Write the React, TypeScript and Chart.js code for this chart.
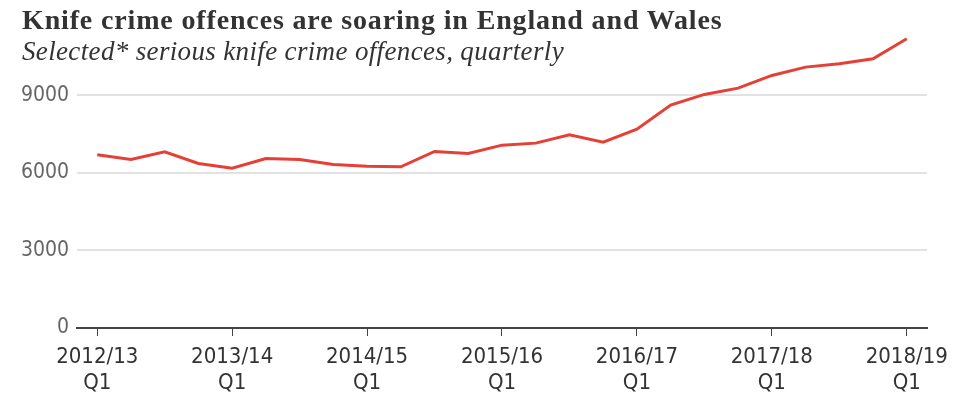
import React, { useEffect, useRef } from "react";
import { Chart, registerables } from "chart.js";

Chart.register(...registerables);

const quarterLabels = [
  "2012/13 Q1", "2012/13 Q2", "2012/13 Q3", "2012/13 Q4",
  "2013/14 Q1", "2013/14 Q2", "2013/14 Q3", "2013/14 Q4",
  "2014/15 Q1", "2014/15 Q2", "2014/15 Q3", "2014/15 Q4",
  "2015/16 Q1", "2015/16 Q2", "2015/16 Q3", "2015/16 Q4",
  "2016/17 Q1", "2016/17 Q2", "2016/17 Q3", "2016/17 Q4",
  "2017/18 Q1", "2017/18 Q2", "2017/18 Q3", "2017/18 Q4",
  "2018/19 Q1",
];

const offences = [
  6705, 6523, 6821, 6368,
  6186, 6561, 6523, 6329,
  6263, 6240, 6832, 6755,
  7076, 7154, 7479, 7192,
  7696, 8625, 9039, 9283,
  9774, 10096, 10227, 10421,
  11195,
];

const yTicks = [0, 3000, 6000, 9000];
const xTickIndices = [0, 4, 8, 12, 16, 20, 24];

const TITLE = "Knife crime offences are soaring in England and Wales";
const SUBTITLE = "Selected* serious knife crime offences, quarterly";

export default function App() {
  const canvasRef = useRef<HTMLCanvasElement | null>(null);

  useEffect(() => {
    const canvas = canvasRef.current;
    if (!canvas) return;
    const chart = new Chart(canvas, {
      type: "line",
      data: {
        datasets: [
          {
            label: "Offences",
            data: offences.map((v, i) => ({ x: i, y: v })),
            borderColor: "#e63f35",
            borderWidth: 3,
            pointRadius: 0,
            tension: 0,
            fill: false,
          },
        ],
      },
      options: {
        animation: false,
        responsive: false,
        devicePixelRatio: 1,
        layout: { padding: { left: 0, right: 42, top: 36, bottom: 0 } },
        plugins: {
          legend: { display: false },
          tooltip: { enabled: false },
          title: { display: false },
        },
        scales: {
          x: {
            type: "linear",
            min: -0.6,
            max: 24.6,
            afterBuildTicks: (scale: any) => {
              scale.ticks = xTickIndices.map((v) => ({ value: v }));
            },
            afterFit: (scale: any) => {
              scale.height = 75;
            },
            ticks: {
              autoSkip: false,
              maxRotation: 0,
              padding: 8,
              color: "#333",
              font: { family: "'DejaVu Sans Condensed', 'DejaVu Sans'", size: 22 },
              callback: (value: any) => {
                const lbl = quarterLabels[Math.round(Number(value))];
                return lbl ? lbl.split(" ") : "";
              },
            },
            grid: {
              display: true,
              drawOnChartArea: false,
              drawTicks: true,
              tickLength: 8,
              color: "#444",
              lineWidth: 1,
            },
            border: { display: true, color: "#444", width: 2 },
          },
          y: {
            type: "linear",
            min: 0,
            max: 11300,
            afterBuildTicks: (scale: any) => {
              scale.ticks = yTicks.map((v) => ({ value: v }));
            },
            afterFit: (scale: any) => {
              scale.width = 77;
            },
            ticks: {
              padding: 8,
              color: "#666",
              font: { family: "'DejaVu Sans Condensed', 'DejaVu Sans'", size: 21 },
              callback: (value: any) => String(value),
            },
            grid: {
              drawTicks: false,
              color: "#e2e2e2",
              lineWidth: 2,
            },
            border: { display: false },
          },
        },
      },
    });
    return () => chart.destroy();
  }, []);

  return (
    <div
      style={{
        position: "fixed",
        left: 0,
        top: 0,
        width: 969,
        height: 403,
        background: "#fff",
        overflow: "hidden",
      }}
    >
      <canvas
        ref={canvasRef}
        width={969}
        height={403}
        style={{ position: "absolute", left: 0, top: 0, width: 969, height: 403 }}
      />
      <div
        style={{
          position: "absolute",
          left: 22,
          top: 6,
          fontFamily: "'Liberation Serif', 'DejaVu Serif', serif",
          fontWeight: 700,
          fontSize: 28,
          letterSpacing: "0.85px",
          lineHeight: "28px",
          color: "#333",
          whiteSpace: "nowrap",
        }}
      >
        {TITLE}
      </div>
      <div
        style={{
          position: "absolute",
          left: 22,
          top: 38,
          fontFamily: "'Liberation Serif', 'DejaVu Serif', serif",
          fontStyle: "italic",
          fontSize: 27,
          letterSpacing: "0.35px",
          lineHeight: "27px",
          color: "#333",
          whiteSpace: "nowrap",
        }}
      >
        {SUBTITLE}
      </div>
    </div>
  );
}
